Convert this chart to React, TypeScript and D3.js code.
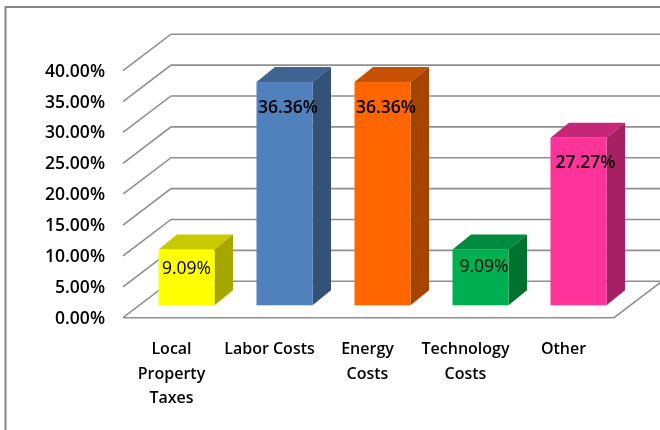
import React from "react";
import * as d3 from "d3";

const categories: string[][] = [
  ["Local", "Property", "Taxes"],
  ["Labor Costs"],
  ["Energy", "Costs"],
  ["Technology", "Costs"],
  ["Other"],
];
const values = [9.09, 36.36, 36.36, 9.09, 27.27];
const ticks = [0, 5, 10, 15, 20, 25, 30, 35, 40];
const frontColors = ["#ffff00", "#4f81bd", "#ff6600", "#00b050", "#ff3399"];
const topColors = ["#c9c900", "#3e6492", "#c65100", "#008a3e", "#c62678"];
const sideColors = ["#a6a600", "#335279", "#a54300", "#00722f", "#a62062"];
const labelNudgeX = [0, 3.5, 3.5, 3.5, 7];
const labelNudgeY = [-6.5, 0, 0, -8.5, -1];
const labelWeights = [500, 600, 600, 500, 600];

const W = 660;
const H = 430;
const depthX = 48;
const depthY = 36.5;
const barDepthX = 18.5;
const barDepthY = 15;
const floorLeft = 123;
const floorFrontRight = 614;
const gridColor = "#8f8f8f";
const font = "'Open Sans', 'Noto Sans', sans-serif";

const y = d3.scaleLinear().domain([0, 40]).range([317.7, 70.7]);
const yBar = d3.scaleLinear().domain([0, 40]).range([305.3, 59.7]);
const x = d3
  .scaleBand<number>()
  .domain(d3.range(values.length))
  .range([137.5, 627.5])
  .paddingInner(42 / 98)
  .paddingOuter(21 / 98);

export default function App() {
  const path = d3.line();
  return (
    <svg
      width={W}
      height={H}
      viewBox={`0 0 ${W} ${H}`}
      style={{ position: "absolute", left: 0, top: 0, background: "#fff" }}
    >
      <defs>
        <filter id="soft" x="-5%" y="-5%" width="110%" height="110%">
          <feGaussianBlur stdDeviation="0.35" />
        </filter>
      </defs>
      <path d={path([[5.5, H], [5.5, 7], [W, 7]])!} fill="none" stroke="#868686" strokeWidth={2} />

      {ticks.map((t) => (
        <path
          key={t}
          d={path([[floorLeft, y(t)], [floorLeft + depthX, y(t) - depthY], [W, y(t) - depthY]])!}
          fill="none"
          stroke={gridColor}
          strokeWidth={1.6}
        />
      ))}
      <path
        d={path([[floorLeft, y(0)], [floorFrontRight, y(0)], [floorFrontRight + depthX, y(0) - depthY]])!}
        fill="none"
        stroke={gridColor}
        strokeWidth={1.6}
      />

      {values.map((v, i) => {
        const l = x(i)!;
        const r = l + x.bandwidth();
        const b = yBar(0);
        const t = yBar(v);
        return (
          <g key={i}>
            <path
              d={path([[l, t], [l + barDepthX, t - barDepthY], [r + barDepthX, t - barDepthY], [r, t]])! + "Z"}
              fill={topColors[i]}
            />
            <path
              d={path([[r, t], [r + barDepthX, t - barDepthY], [r + barDepthX, b - barDepthY], [r, b]])! + "Z"}
              fill={sideColors[i]}
            />
            <rect x={l} y={t} width={x.bandwidth()} height={b - t} fill={frontColors[i]} />
          </g>
        );
      })}

      <g filter="url(#soft)" fontFamily={font} fill="#000">
        {ticks.map((t) => (
          <text key={t} x={105} y={y(t) + 6} textAnchor="end" fontSize={17.5} fontWeight={600}>
            {d3.format(".2f")(t)}%
          </text>
        ))}
        {categories.map((lines, i) =>
          lines.map((line, j) => (
            <text
              key={line + i}
              x={x(i)! + x.bandwidth() / 2 - 15}
              y={354 + j * 24.5}
              textAnchor="middle"
              fontSize={16}
              fontWeight={600}
            >
              {line}
            </text>
          ))
        )}
        {values.map((v, i) => (
          <text
            key={i}
            x={x(i)! + x.bandwidth() / 2 + labelNudgeX[i]}
            y={yBar(v) + 31 + labelNudgeY[i]}
            textAnchor="middle"
            fontSize={17.5}
            fontWeight={labelWeights[i]}
          >
            {v.toFixed(2)}%
          </text>
        ))}
      </g>
    </svg>
  );
}
